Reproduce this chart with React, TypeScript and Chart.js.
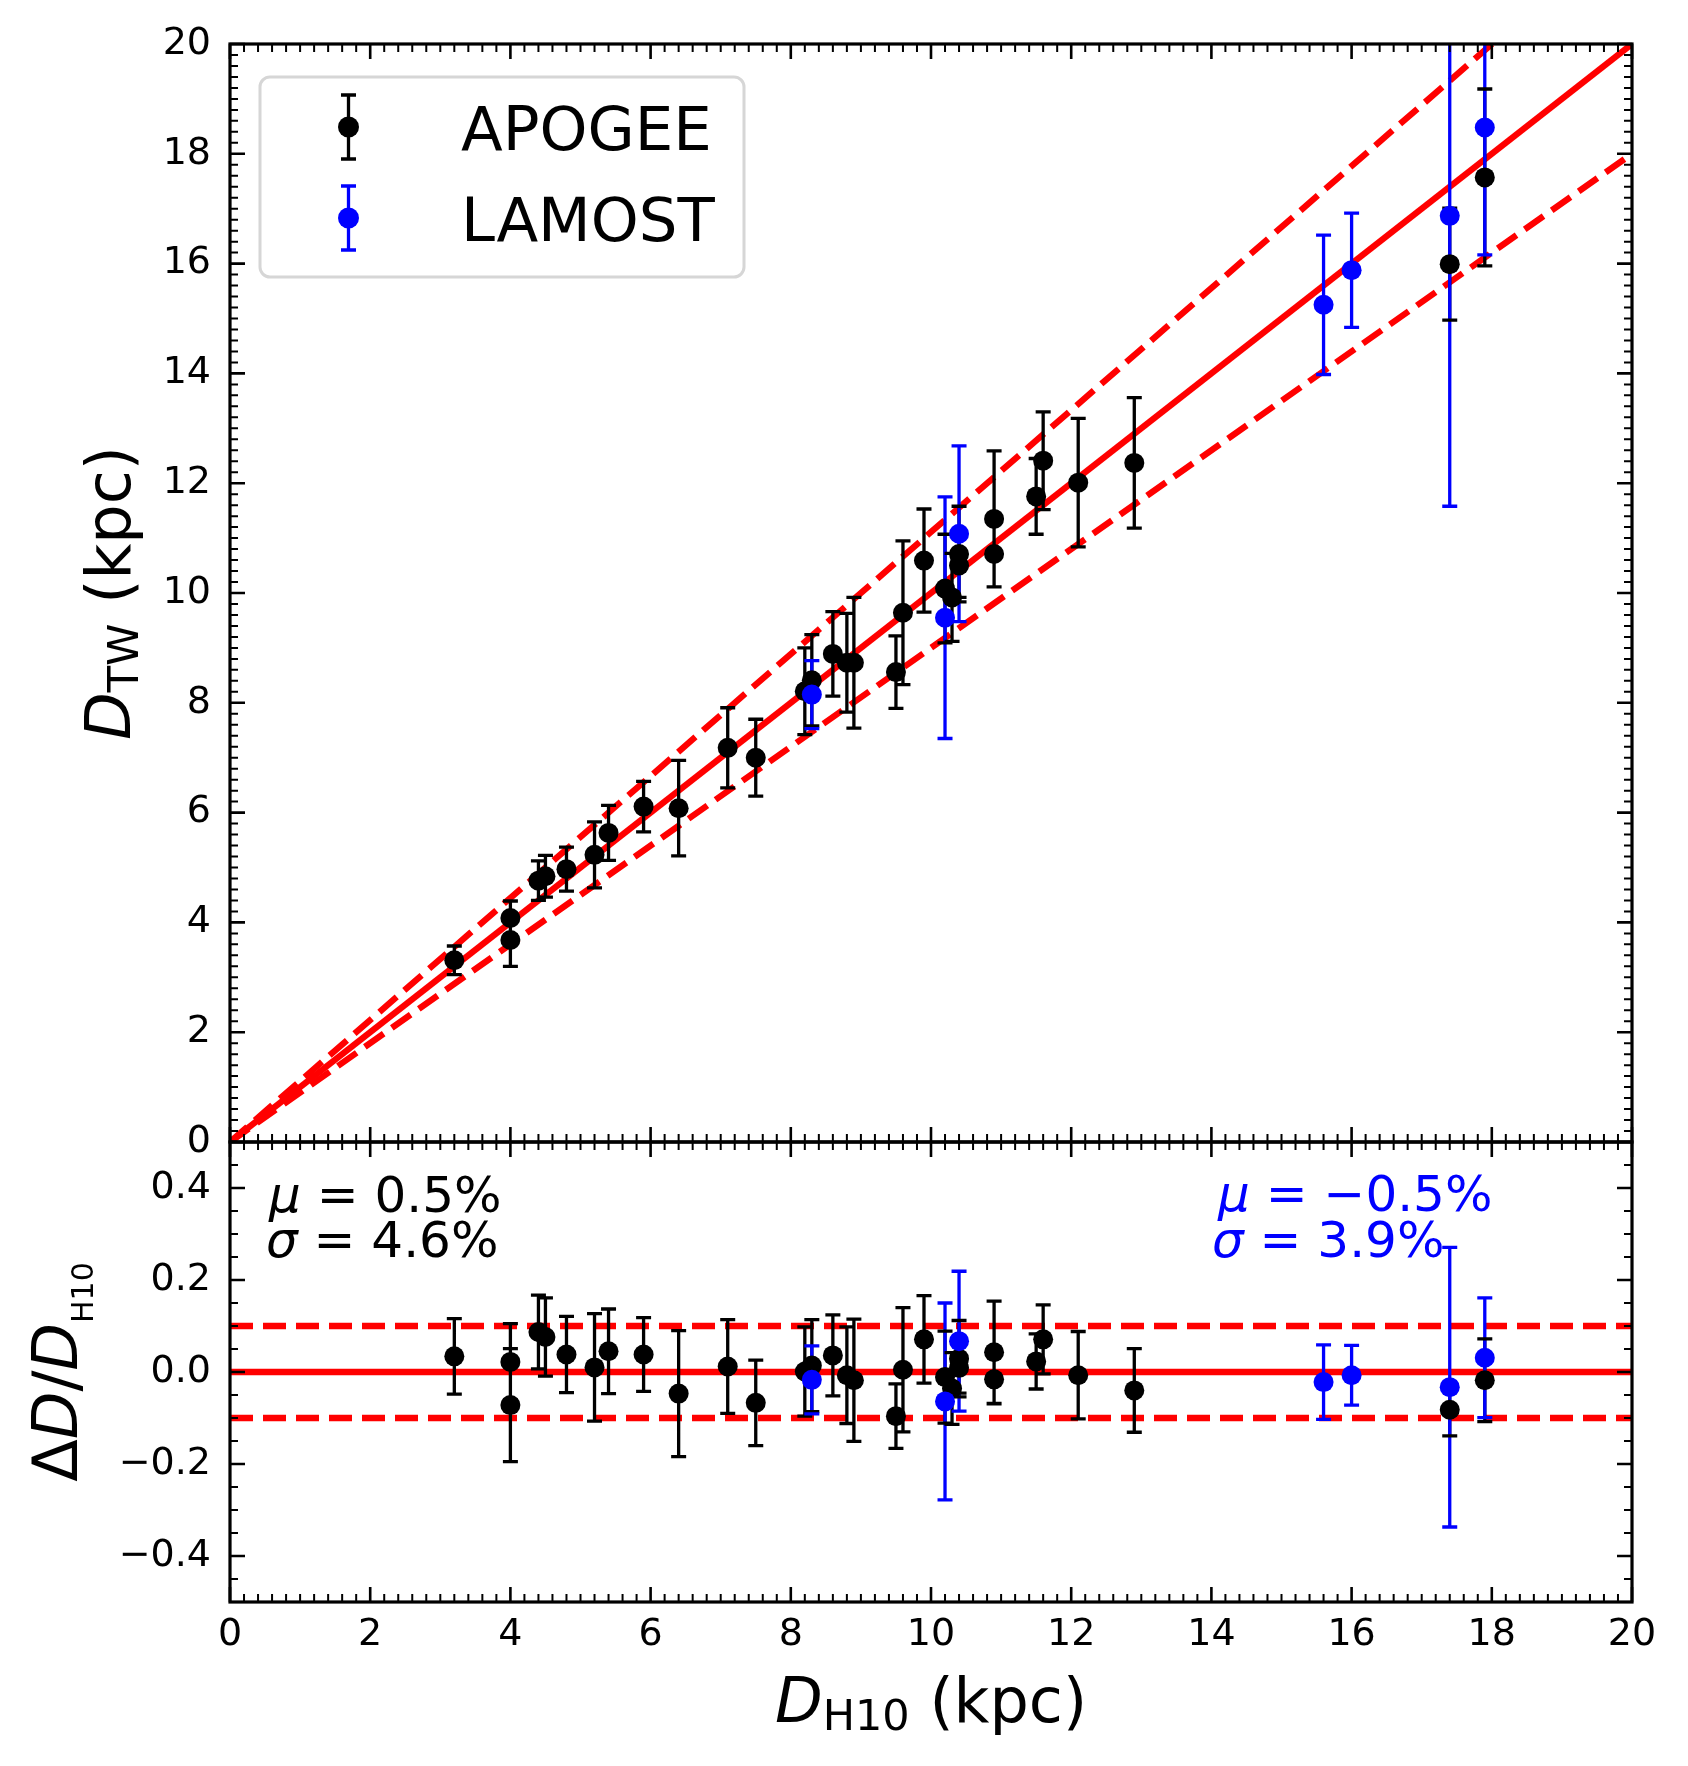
import { useEffect, useRef } from 'react';
import { Chart, registerables } from 'chart.js';

Chart.register(...registerables);
Chart.defaults.font.family = "'DejaVu Sans'";

// page and panel geometry (px)
const W = 1688;
const H = 1766;
const LEFT = 230;
const RIGHT = 1632;
const TOP = 44;
const MID = 1142;
const BOTTOM = 1602;

// APOGEE stars
const apogeeDH10 = [3.2, 4.0, 4.0, 4.4, 4.5, 4.8, 5.2, 5.4, 5.9, 6.4, 7.1, 7.5, 8.2, 8.3, 8.6, 8.8, 8.9, 9.5, 9.6, 9.9, 10.2, 10.3, 10.4, 10.4, 10.9, 10.9, 11.5, 11.6, 12.1, 12.9, 17.4, 17.9];
const apogeeDTW = [3.31, 4.08, 3.68, 4.76, 4.84, 4.97, 5.23, 5.63, 6.11, 6.08, 7.18, 7.0, 8.21, 8.41, 8.89, 8.73, 8.73, 8.56, 9.64, 10.59, 10.08, 9.92, 10.71, 10.5, 11.35, 10.71, 11.76, 12.41, 12.01, 12.37, 15.99, 17.57];
const apogeeDTWErr = [0.26, 0.31, 0.48, 0.36, 0.38, 0.4, 0.6, 0.5, 0.46, 0.87, 0.73, 0.7, 0.79, 0.83, 0.77, 0.9, 1.19, 0.66, 1.31, 0.94, 0.99, 0.8, 0.87, 0.58, 1.24, 0.6, 0.69, 0.89, 1.17, 1.19, 1.02, 1.61];
const apogeeDiff = [0.034, 0.022, -0.072, 0.087, 0.076, 0.038, 0.01, 0.045, 0.038, -0.047, 0.012, -0.067, 0.001, 0.014, 0.036, -0.007, -0.018, -0.096, 0.005, 0.071, -0.011, -0.036, 0.029, 0.009, 0.043, -0.016, 0.023, 0.071, -0.007, -0.04, -0.082, -0.018];
const apogeeDiffErr = [0.082, 0.083, 0.123, 0.08, 0.085, 0.083, 0.117, 0.092, 0.08, 0.137, 0.102, 0.093, 0.097, 0.1, 0.088, 0.105, 0.133, 0.07, 0.135, 0.095, 0.1, 0.078, 0.083, 0.055, 0.111, 0.053, 0.06, 0.075, 0.095, 0.091, 0.057, 0.09];

// LAMOST stars
const lamostDH10 = [8.3, 10.2, 10.4, 15.6, 16.0, 17.4, 17.9];
const lamostDTW = [8.15, 9.55, 11.08, 15.25, 15.88, 16.87, 18.48];
const lamostDTWErr = [0.62, 2.2, 1.6, 1.27, 1.04, 5.29, 2.32];
const lamostDiff = [-0.017, -0.064, 0.067, -0.022, -0.007, -0.033, 0.031];
const lamostDiffErr = [0.074, 0.214, 0.152, 0.081, 0.065, 0.304, 0.13];

// reference lines
const refX = [0, 20];
const oneToOneY = [0, 20];
const upperY = [0, 22.22];
const lowerY = [0, 18];
const diffZeroY = [0, 0];
const diffUpperY = [0.1, 0.1];
const diffLowerY = [-0.1, -0.1];

// ticks
const xTicks = [0, 2, 4, 6, 8, 10, 12, 14, 16, 18, 20];
const yTopTicks = [0, 2, 4, 6, 8, 10, 12, 14, 16, 18, 20];
const yBottomTicks = [-0.4, -0.2, 0, 0.2, 0.4];

// texts
const topYTitle = [{ t: 'D', italic: true }, { t: 'TW', sub: true }, { t: ' (kpc)' }];
const bottomYTitle = [{ t: 'Δ' }, { t: 'D', italic: true }, { t: '/' }, { t: 'D', italic: true }, { t: 'H10', sub: true }];
const xTitle = [{ t: 'D', italic: true }, { t: 'H10', sub: true }, { t: ' (kpc)' }];
const apogeeMu = [{ t: 'μ', italic: true }, { t: ' = 0.5%' }];
const apogeeSigma = [{ t: 'σ', italic: true }, { t: ' = 4.6%' }];
const lamostMu = [{ t: 'μ', italic: true }, { t: ' = −0.5%' }];
const lamostSigma = [{ t: 'σ', italic: true }, { t: ' = 3.9%' }];

const RED = '#ff0000';
const BLUE = '#0000ff';
const BLACK = '#000000';

const pts = (xs: number[], ys: number[]) => xs.map((x, i) => ({ x, y: ys[i] }));

// error bars go under the markers but over the reference lines
const errorBarPlugin = {
  id: 'errorBars',
  beforeDatasetDraw(chart: any, args: any) {
    const sets = chart.data.datasets.filter((d: any) => d.err).sort((a: any, b: any) => b.order - a.order);
    if (!sets.length || chart.data.datasets[args.index] !== sets[0]) return;
    const { ctx, chartArea: a, scales } = chart;
    const sx = scales.x;
    const sy = scales.y;
    ctx.save();
    ctx.beginPath();
    ctx.rect(a.left, a.top, a.right - a.left, a.bottom - a.top);
    ctx.clip();
    ctx.lineWidth = 3.3;
    ctx.lineCap = 'butt';
    for (const d of sets) {
      ctx.strokeStyle = d.borderColor;
      ctx.beginPath();
      d.data.forEach((p: any, i: number) => {
        const px = sx.getPixelForValue(p.x);
        ctx.moveTo(px, sy.getPixelForValue(p.y - d.err[i]));
        ctx.lineTo(px, sy.getPixelForValue(p.y + d.err[i]));
      });
      ctx.stroke();
    }
    for (const d of sets) {
      ctx.strokeStyle = d.borderColor;
      ctx.beginPath();
      d.data.forEach((p: any, i: number) => {
        const px = sx.getPixelForValue(p.x);
        for (const v of [p.y - d.err[i], p.y + d.err[i]]) {
          const py = sy.getPixelForValue(v);
          ctx.moveTo(px - 7.5, py);
          ctx.lineTo(px + 7.5, py);
        }
      });
      ctx.stroke();
    }
    ctx.restore();
  },
};

// box frame with inward major and minor ticks on all four sides
const framePlugin = {
  id: 'frame',
  afterDatasetsDraw(chart: any, _args: any, opts: any) {
    const { ctx, chartArea: a, scales } = chart;
    const sx = scales.x;
    const sy = scales.y;
    const isMajor = (v: number, majors: number[]) => majors.some((m) => Math.abs(m - v) < 1e-6);
    ctx.save();
    ctx.strokeStyle = BLACK;
    for (const minor of [true, false]) {
      const len = minor ? 8 : 15;
      ctx.lineWidth = minor ? 2 : 2.6;
      ctx.beginPath();
      const nx = Math.round((sx.max - sx.min) / opts.xMinor);
      for (let i = 0; i <= nx; i++) {
        const v = sx.min + i * opts.xMinor;
        if (isMajor(v, opts.xMajor) === minor) continue;
        const px = sx.getPixelForValue(v);
        ctx.moveTo(px, a.bottom);
        ctx.lineTo(px, a.bottom - len);
        ctx.moveTo(px, a.top);
        ctx.lineTo(px, a.top + len);
      }
      const ny = Math.round((sy.max - sy.min) / opts.yMinor);
      for (let i = 0; i <= ny; i++) {
        const v = sy.min + i * opts.yMinor;
        if (isMajor(v, opts.yMajor) === minor) continue;
        const py = sy.getPixelForValue(v);
        ctx.moveTo(a.left, py);
        ctx.lineTo(a.left + len, py);
        ctx.moveTo(a.right, py);
        ctx.lineTo(a.right - len, py);
      }
      ctx.stroke();
    }
    ctx.lineWidth = 3.2;
    ctx.strokeRect(a.left, a.top, a.right - a.left, a.bottom - a.top);
    ctx.restore();
  },
};

// legend with error-bar glyphs
const legendPlugin = {
  id: 'errLegend',
  afterDraw(chart: any, _args: any, opts: any) {
    if (!opts.show) return;
    const ctx = chart.ctx;
    const sets = chart.data.datasets.filter((d: any) => d.err);
    ctx.save();
    ctx.beginPath();
    ctx.roundRect(260, 77, 484, 200, 10);
    ctx.fillStyle = 'rgba(255,255,255,0.8)';
    ctx.fill();
    ctx.lineWidth = 3;
    ctx.strokeStyle = '#d6d6d6';
    ctx.stroke();
    sets.forEach((d: any, i: number) => {
      const cy = 127 + i * 91;
      const cx = 348.5;
      ctx.strokeStyle = d.borderColor;
      ctx.lineWidth = 3.3;
      ctx.beginPath();
      ctx.moveTo(cx, cy - 32);
      ctx.lineTo(cx, cy + 32);
      ctx.moveTo(cx - 7.5, cy - 32);
      ctx.lineTo(cx + 7.5, cy - 32);
      ctx.moveTo(cx - 7.5, cy + 32);
      ctx.lineTo(cx + 7.5, cy + 32);
      ctx.stroke();
      ctx.fillStyle = d.backgroundColor;
      ctx.beginPath();
      ctx.arc(cx, cy, 10.5, 0, Math.PI * 2);
      ctx.fill();
      ctx.fillStyle = BLACK;
      ctx.font = "61px 'DejaVu Sans'";
      ctx.textAlign = 'left';
      ctx.textBaseline = 'alphabetic';
      ctx.fillText(d.label, 461, cy + 22.5);
    });
    ctx.restore();
  },
};

// axis titles and statistics with italic symbols and subscripts
const richTextPlugin = {
  id: 'richText',
  afterDraw(chart: any, _args: any, opts: any) {
    const ctx = chart.ctx;
    for (const item of opts.items || []) {
      const fontOf = (s: any) => `${s.italic ? 'italic ' : ''}${s.sub ? item.subSize : item.size}px 'DejaVu Sans'`;
      ctx.save();
      ctx.translate(item.x, item.y);
      ctx.rotate(item.angle || 0);
      ctx.fillStyle = item.color || BLACK;
      ctx.textAlign = 'left';
      ctx.textBaseline = 'alphabetic';
      let total = 0;
      for (const s of item.segs) {
        ctx.font = fontOf(s);
        total += ctx.measureText(s.t).width;
      }
      let cx = item.align === 'center' ? -total / 2 : 0;
      for (const s of item.segs) {
        ctx.font = fontOf(s);
        ctx.fillText(s.t, cx, s.sub ? item.subDrop : 0);
        cx += ctx.measureText(s.t).width;
      }
      ctx.restore();
    }
  },
};

const markerSet = (label: string, xs: number[], ys: number[], err: number[], color: string, order: number) => ({
  label,
  data: pts(xs, ys),
  err,
  order,
  backgroundColor: color,
  borderColor: color,
  pointRadius: 10,
  pointBorderWidth: 0,
  showLine: false,
});

const lineSet = (ys: number[], dashed: boolean) => ({
  label: '',
  data: pts(refX, ys),
  order: dashed ? 3 : 4,
  borderColor: RED,
  borderWidth: 6.3,
  borderDash: dashed ? [23, 10] : [],
  pointRadius: 0,
  showLine: true,
  fill: false,
});

const tickFont = { size: 38 };

const yAxis = (min: number, max: number, ticks: number[], fmt: (v: number) => string) => ({
  type: 'linear',
  min,
  max,
  afterFit: (s: any) => {
    s.width = LEFT;
  },
  afterBuildTicks: (s: any) => {
    s.ticks = ticks.map((value) => ({ value }));
  },
  grid: { display: false, drawTicks: false },
  border: { display: false },
  ticks: { color: BLACK, font: tickFont, padding: 19, callback: (v: any) => fmt(Number(v)) },
});

const baseOptions = {
  responsive: false,
  maintainAspectRatio: false,
  devicePixelRatio: 1,
  animation: false,
  events: [],
};

const App = () => {
  const topRef = useRef<HTMLCanvasElement>(null);
  const bottomRef = useRef<HTMLCanvasElement>(null);

  useEffect(() => {
    const charts: Chart[] = [];
    if (topRef.current) {
      charts.push(
        new Chart(topRef.current, {
          type: 'scatter',
          data: {
            datasets: [
              markerSet('APOGEE', apogeeDH10, apogeeDTW, apogeeDTWErr, BLACK, 1),
              markerSet('LAMOST', lamostDH10, lamostDTW, lamostDTWErr, BLUE, 0),
              lineSet(oneToOneY, false),
              lineSet(upperY, true),
              lineSet(lowerY, true),
            ],
          } as any,
          options: {
            ...baseOptions,
            layout: { padding: { left: 0, right: W - RIGHT, top: TOP, bottom: H - MID } },
            scales: {
              x: { type: 'linear', min: 0, max: 20, display: false },
              y: yAxis(0, 20, yTopTicks, (v) => String(v)),
            },
            plugins: {
              legend: { display: false },
              tooltip: { enabled: false },
              frame: { xMinor: 0.2, yMinor: 0.2, xMajor: xTicks, yMajor: yTopTicks },
              errLegend: { show: true },
              richText: {
                items: [{ segs: topYTitle, x: 130, y: (TOP + MID) / 2, angle: -Math.PI / 2, size: 62, subSize: 43, subDrop: 8, align: 'center' }],
              },
            },
          } as any,
          plugins: [errorBarPlugin, framePlugin, legendPlugin, richTextPlugin],
        })
      );
    }
    if (bottomRef.current) {
      charts.push(
        new Chart(bottomRef.current, {
          type: 'scatter',
          data: {
            datasets: [
              markerSet('APOGEE', apogeeDH10, apogeeDiff, apogeeDiffErr, BLACK, 1),
              markerSet('LAMOST', lamostDH10, lamostDiff, lamostDiffErr, BLUE, 0),
              lineSet(diffZeroY, false),
              lineSet(diffUpperY, true),
              lineSet(diffLowerY, true),
            ],
          } as any,
          options: {
            ...baseOptions,
            layout: { padding: { left: 0, right: W - RIGHT, top: MID, bottom: 0 } },
            scales: {
              x: {
                type: 'linear',
                min: 0,
                max: 20,
                afterFit: (s: any) => {
                  s.height = H - BOTTOM;
                },
                afterBuildTicks: (s: any) => {
                  s.ticks = xTicks.map((value) => ({ value }));
                },
                grid: { display: false, drawTicks: false },
                border: { display: false },
                ticks: { color: BLACK, font: tickFont, padding: 10, maxRotation: 0, autoSkip: false, callback: (v: any) => String(v) },
              },
              y: yAxis(-0.5, 0.5, yBottomTicks, (v) => v.toFixed(1).replace('-', '−')),
            },
            plugins: {
              legend: { display: false },
              tooltip: { enabled: false },
              frame: { xMinor: 0.2, yMinor: 0.05, xMajor: xTicks, yMajor: yBottomTicks },
              errLegend: { show: false },
              richText: {
                items: [
                  { segs: bottomYTitle, x: 77, y: (MID + BOTTOM) / 2, angle: -Math.PI / 2, size: 62, subSize: 30, subDrop: 16, align: 'center' },
                  { segs: xTitle, x: (LEFT + RIGHT) / 2, y: 1722, angle: 0, size: 62, subSize: 43, subDrop: 8, align: 'center' },
                  { segs: apogeeMu, x: 269, y: 1212, size: 50, align: 'left', color: BLACK },
                  { segs: apogeeSigma, x: 266, y: 1257, size: 50, align: 'left', color: BLACK },
                  { segs: lamostMu, x: 1218, y: 1211, size: 50, align: 'left', color: BLUE },
                  { segs: lamostSigma, x: 1212, y: 1257, size: 50, align: 'left', color: BLUE },
                ],
              },
            },
          } as any,
          plugins: [errorBarPlugin, framePlugin, legendPlugin, richTextPlugin],
        })
      );
    }
    return () => {
      charts.forEach((c) => c.destroy());
    };
  }, []);

  return (
    <div style={{ position: 'absolute', left: 0, top: 0, width: W, height: H, background: '#ffffff' }}>
      <canvas ref={topRef} width={W} height={H} style={{ position: 'absolute', left: 0, top: 0, width: W, height: H }} />
      <canvas ref={bottomRef} width={W} height={H} style={{ position: 'absolute', left: 0, top: 0, width: W, height: H }} />
    </div>
  );
};

export default App;
